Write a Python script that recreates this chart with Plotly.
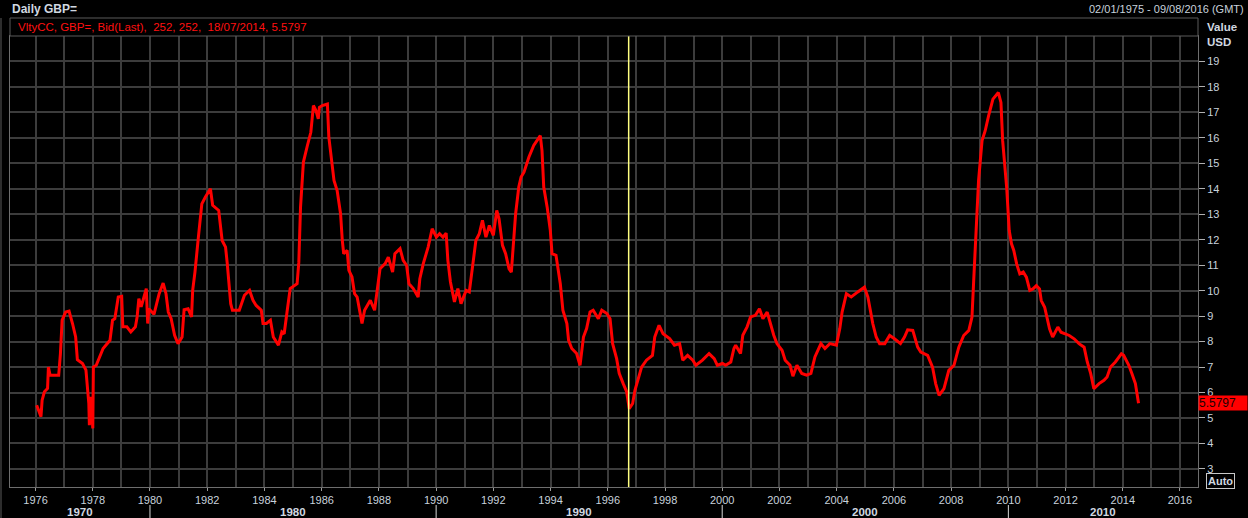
import pandas as pd
import plotly.graph_objects as go

# ---- data (decimal year, volatility value) ----
years = [
    1976.04, 1976.19, 1976.23, 1976.31, 1976.42, 1976.45, 1976.51, 1976.81, 1976.87, 1976.93,
    1977.05, 1977.17, 1977.29, 1977.40, 1977.46, 1977.64, 1977.76, 1977.86, 1977.88, 1977.94,
    1978.00, 1978.02, 1978.12, 1978.24, 1978.36, 1978.60, 1978.69, 1978.77, 1978.89, 1979.01,
    1979.05, 1979.19, 1979.33, 1979.49, 1979.55, 1979.61, 1979.69, 1979.79, 1979.87, 1979.92,
    1979.96, 1980.14, 1980.32, 1980.46, 1980.56, 1980.64, 1980.74, 1980.86, 1980.98, 1981.12,
    1981.19, 1981.33, 1981.45, 1981.49, 1981.57, 1981.69, 1981.81, 1981.93, 1982.11, 1982.19,
    1982.40, 1982.52, 1982.64, 1982.70, 1982.82, 1982.88, 1983.12, 1983.30, 1983.48, 1983.60,
    1983.71, 1983.89, 1983.95, 1984.07, 1984.21, 1984.31, 1984.49, 1984.61, 1984.69, 1984.79,
    1984.90, 1985.14, 1985.20, 1985.26, 1985.36, 1985.50, 1985.62, 1985.71, 1985.80, 1985.88,
    1985.92,
    1986.02, 1986.20, 1986.25, 1986.37, 1986.43, 1986.54, 1986.66, 1986.72, 1986.77, 1986.89,
    1986.95, 1987.06, 1987.15, 1987.24, 1987.41, 1987.50, 1987.70, 1987.85, 1987.93, 1988.04,
    1988.22, 1988.33, 1988.48, 1988.56, 1988.74, 1988.85, 1988.97, 1989.05, 1989.20, 1989.37,
    1989.43, 1989.55, 1989.72, 1989.86, 1990.01, 1990.12, 1990.24, 1990.35, 1990.41, 1990.50,
    1990.64, 1990.76, 1990.87, 1991.05, 1991.16, 1991.28, 1991.39, 1991.51, 1991.62, 1991.74,
    1991.86, 1992.00, 1992.12, 1992.20, 1992.32, 1992.43, 1992.55, 1992.63, 1992.70, 1992.78,
    1992.89, 1992.97, 1993.07, 1993.24, 1993.41, 1993.64, 1993.70, 1993.76, 1993.88, 1993.99,
    1994.05, 1994.19, 1994.34, 1994.43, 1994.57, 1994.63, 1994.74, 1994.91, 1995.03, 1995.15,
    1995.26, 1995.38, 1995.49, 1995.67, 1995.79,
    1995.97, 1996.08, 1996.17, 1996.31, 1996.40, 1996.54, 1996.66, 1996.75, 1996.87, 1996.95,
    1997.06, 1997.18, 1997.35, 1997.56, 1997.64, 1997.79, 1997.93, 1998.16, 1998.33, 1998.51,
    1998.62, 1998.79, 1998.97, 1999.08, 1999.31, 1999.54, 1999.72, 1999.83, 2000.01, 2000.12,
    2000.30, 2000.41, 2000.47, 2000.64, 2000.72, 2000.87, 2000.99, 2001.16, 2001.30, 2001.42,
    2001.57, 2001.68, 2001.80, 2001.91, 2002.09, 2002.20, 2002.37, 2002.47, 2002.61, 2002.78,
    2002.95, 2003.10, 2003.24, 2003.45, 2003.59, 2003.76, 2003.99, 2004.11, 2004.19, 2004.34,
    2004.51, 2004.74, 2004.97, 2005.09, 2005.26, 2005.38,
    2005.50, 2005.68, 2005.85, 2006.02, 2006.23, 2006.37, 2006.48, 2006.66, 2006.83, 2006.94,
    2007.18, 2007.35, 2007.46, 2007.58, 2007.75, 2007.92, 2008.10, 2008.27, 2008.44, 2008.62,
    2008.73, 2008.79, 2008.85, 2008.90, 2008.96, 2009.08, 2009.19, 2009.31, 2009.46, 2009.65,
    2009.74, 2009.80, 2009.88, 2009.94, 2010.03, 2010.11, 2010.19, 2010.29, 2010.40, 2010.52,
    2010.63, 2010.75, 2010.86, 2010.98, 2011.09, 2011.15, 2011.27, 2011.38, 2011.44, 2011.55,
    2011.73, 2011.84, 2011.96, 2012.13, 2012.30, 2012.47, 2012.65, 2012.76, 2012.88, 2012.99,
    2013.17, 2013.34, 2013.45, 2013.57, 2013.74, 2013.95, 2014.03, 2014.21, 2014.32, 2014.44,
    2014.55,
]
values = [
    5.50, 5.05, 5.70, 6.03, 6.16, 7.00, 6.68, 6.68, 7.53, 8.84,
    9.16, 9.20, 8.71, 8.18, 7.29, 7.14, 6.88, 5.57, 4.72, 5.83,
    4.59, 7.00, 7.07, 7.40, 7.73, 8.05, 8.84, 8.90, 9.75, 9.78,
    8.58, 8.58, 8.38, 8.58, 8.97, 9.69, 9.36, 9.75, 10.08, 8.71,
    9.29, 9.07, 9.88, 10.30, 9.88, 9.16, 8.90, 8.25, 7.92, 8.18,
    9.25, 9.29, 8.97, 10.01, 10.73, 12.10, 13.41, 13.67, 14.00, 13.35,
    13.15, 11.97, 11.71, 11.06, 9.49, 9.23, 9.23, 9.82, 10.01, 9.62,
    9.42, 9.23, 8.71, 8.71, 8.84, 8.18, 7.86, 8.38, 8.31, 9.16,
    10.08, 10.27, 11.12, 13.28, 15.05, 15.70, 16.22, 17.27, 17.07, 16.75,
    17.20,
    17.27, 17.33, 16.03, 14.98, 14.33, 13.93, 13.02, 11.97, 11.45, 11.58,
    10.80, 10.54, 9.88, 9.75, 8.71, 9.23, 9.62, 9.23, 9.95, 10.86,
    11.06, 11.32, 10.73, 11.45, 11.65, 11.19, 10.99, 10.27, 10.08, 9.75,
    10.47, 11.06, 11.71, 12.43, 12.10, 12.24, 12.10, 12.26, 11.19, 10.34,
    9.56, 10.08, 9.49, 10.01, 9.95, 10.93, 11.97, 12.24, 12.76, 12.10,
    12.56, 12.17, 13.15, 12.82, 11.78, 11.45, 10.86, 10.73, 11.84, 13.02,
    14.07, 14.46, 14.65, 15.24, 15.70, 16.09, 15.50, 14.07, 13.28, 12.37,
    11.45, 11.39, 10.27, 9.23, 8.71, 8.05, 7.73, 7.53, 7.07, 8.18,
    8.51, 9.16, 9.23, 8.90, 9.23,
    9.10, 8.90, 7.92, 7.33, 6.75, 6.35, 6.03, 5.37, 5.57, 6.09,
    6.55, 7.00, 7.27, 7.46, 8.18, 8.64, 8.31, 8.12, 7.86, 7.92,
    7.27, 7.46, 7.27, 7.07, 7.27, 7.53, 7.33, 7.07, 7.14, 7.07,
    7.20, 7.73, 7.86, 7.53, 8.25, 8.58, 8.97, 9.03, 9.29, 8.90,
    9.16, 8.71, 8.25, 7.92, 7.66, 7.27, 7.07, 6.64, 7.07, 6.75,
    6.68, 6.75, 7.40, 7.92, 7.73, 7.92, 7.86, 8.51, 9.16, 9.88,
    9.75, 9.95, 10.14, 9.75, 8.71, 8.18,
    7.92, 7.92, 8.24, 8.11, 7.92, 8.18, 8.46, 8.44, 7.78, 7.59,
    7.46, 7.00, 6.35, 5.89, 6.15, 6.87, 7.07, 7.78, 8.24, 8.44,
    8.96, 10.40, 11.97, 13.01, 14.32, 15.89, 16.28, 16.87, 17.52, 17.78,
    17.39, 15.89, 14.97, 14.06, 12.36, 11.84, 11.58, 11.05, 10.66, 10.73,
    10.53, 10.01, 10.07, 10.20, 10.07, 9.61, 9.35, 8.83, 8.50, 8.18,
    8.57, 8.37, 8.31, 8.24, 8.11, 7.92, 7.78, 7.20, 6.74, 6.15,
    6.35, 6.48, 6.61, 7.00, 7.20, 7.52, 7.46, 7.07, 6.74, 6.35,
    5.58,
]
assert len(years) == len(values)

y_ticks = list(range(3, 20))
x_tick_years = list(range(1976, 2017, 2))
decade_labels = ["1970", "1980", "1990", "2000", "2010"]
decade_bounds = ["1975-02-09", "1980-01-01", "1990-01-01", "2000-01-01", "2010-01-01", "2016-08-18"]
last_value = 5.5797
cursor_date = "1996-09-24"


def to_date(y):
    yi = int(y)
    return pd.Timestamp(yi, 1, 1) + pd.Timedelta(days=(y - yi) * 365.25)


dates = [to_date(y) for y in years]

GRID = "#3c3c3c"
AXIS = "#6e6e6e"
TXT = "#c8d2dc"
FONT = "Liberation Sans, Arial, sans-serif"

fig = go.Figure()
fig.add_trace(go.Scatter(
    x=dates, y=values, mode="lines",
    line=dict(color="#ff0000", width=3),
    hoverinfo="skip", showlegend=False,
))

x_range = ["1975-02-09", "2016-08-18"]

fig.update_layout(
    width=1248, height=518,
    paper_bgcolor="#000000", plot_bgcolor="#000000",
    margin=dict(l=10, r=50, t=36, b=31),
    font=dict(family=FONT, size=11, color=TXT),
    showlegend=False,
    xaxis=dict(
        type="date", range=x_range,
        tickvals=[f"{y}-01-01" for y in x_tick_years],
        ticktext=[str(y) for y in x_tick_years],
        ticks="outside", ticklen=3, tickcolor="#9a9a9a", tickwidth=1,
        showgrid=True, gridcolor=GRID, gridwidth=2,
        minor=dict(dtick="M12", tick0="1975-01-01", showgrid=True, gridcolor=GRID, gridwidth=2, ticks=""),
        showline=True, linecolor=AXIS, linewidth=1, mirror=True,
        tickfont=dict(size=11, color=TXT), zeroline=False,
    ),
    yaxis=dict(
        side="right", range=[2.29, 20.0],
        tickvals=y_ticks, ticktext=[str(v) for v in y_ticks],
        ticks="outside", ticklen=6, tickcolor="#b0b0b0", tickwidth=1,
        showgrid=True, gridcolor=GRID, gridwidth=1.5,
        showline=True, linecolor=AXIS, linewidth=1, mirror=True,
        tickfont=dict(size=11, color=TXT), zeroline=False,
    ),
)

# cursor line
fig.add_shape(type="line", xref="x", yref="paper", x0=cursor_date, x1=cursor_date, y0=0, y1=1,
              line=dict(color="#ffff80", width=1.5))

# legend band above plot
fig.add_shape(type="rect", xref="paper", yref="paper", x0=0, x1=1, y0=1, y1=1 + 18 / 451,
              line=dict(color="#5a5a5a", width=1), fillcolor="#000000")
fig.add_annotation(xref="paper", yref="paper", x=6 / 1188, y=1 + 9 / 451, xanchor="left", yanchor="middle",
                   showarrow=False,
                   text="VltyCC, GBP=, Bid(Last),\u00a0\u00a0252, 252,\u00a0\u00a018/07/2014, 5.5797",
                   font=dict(color="#ff1010", size=11.5, family=FONT))

# header texts
fig.add_annotation(xref="paper", yref="paper", x=0, y=1 + 27 / 451, xanchor="left", yanchor="middle",
                   showarrow=False, text="<b>Daily GBP=</b>", font=dict(color="#d0d8e0", size=12, family=FONT))
fig.add_annotation(xref="paper", yref="paper", x=1236 / 1188, y=1 + 27 / 451, xanchor="right", yanchor="middle",
                   showarrow=False, text="02/01/1975 - 09/08/2016 (GMT)", font=dict(color=TXT, size=11, family=FONT))
fig.add_annotation(xref="paper", yref="paper", x=1195 / 1188, y=1 + 9 / 451, xanchor="left", yanchor="middle",
                   showarrow=False, text="<b>Value</b>", font=dict(color="#d0d8e0", size=11.5, family=FONT))
fig.add_annotation(xref="paper", yref="paper", x=1195 / 1188, y=1 - 6 / 451, xanchor="left", yanchor="middle",
                   showarrow=False, text="<b>USD</b>", font=dict(color="#d0d8e0", size=11.5, family=FONT))

# last value tag
fig.add_annotation(xref="paper", yref="y", x=1, y=last_value, xanchor="left", yanchor="middle",
                   showarrow=False, text=f"{last_value:.4f}", bgcolor="#ff0000",
                   font=dict(color="#1a0000", size=12, family=FONT), borderpad=0, width=48, align="left")

# Auto box
fig.add_annotation(xref="paper", yref="paper", x=1210 / 1188, y=6 / 451, xanchor="center", yanchor="middle",
                   showarrow=False, text="<b>Auto</b>", bordercolor="#c8c8c8", borderwidth=1, borderpad=1,
                   font=dict(color="#d0d8e0", size=11, family=FONT))

# decade row
for i, lab in enumerate(decade_labels):
    a = pd.Timestamp(decade_bounds[i])
    b = pd.Timestamp(decade_bounds[i + 1])
    mid = a + (b - a) / 2
    fig.add_annotation(xref="x", yref="paper", x=mid, y=-25 / 451, xanchor="center", yanchor="middle",
                       showarrow=False, text=f"<b>{lab}</b>", font=dict(color="#d0d8e0", size=11.5, family=FONT))
for d in decade_bounds[1:-1]:
    fig.add_shape(type="line", xref="x", yref="paper", x0=d, x1=d, y0=-18 / 451, y1=-31 / 451,
                  line=dict(color="#d8d8d8", width=1))

# outer left frame line
fig.add_shape(type="line", xref="paper", yref="paper", x0=-9 / 1188, x1=-9 / 1188, y0=1 + 18 / 451, y1=-31 / 451,
              line=dict(color="#5a5a5a", width=1))

fig.write_html(
    "out.html",
    config={"displayModeBar": False},
    post_script="document.body.style.margin='0';document.body.style.padding='0';"
                "document.body.style.background='#000';",
)
